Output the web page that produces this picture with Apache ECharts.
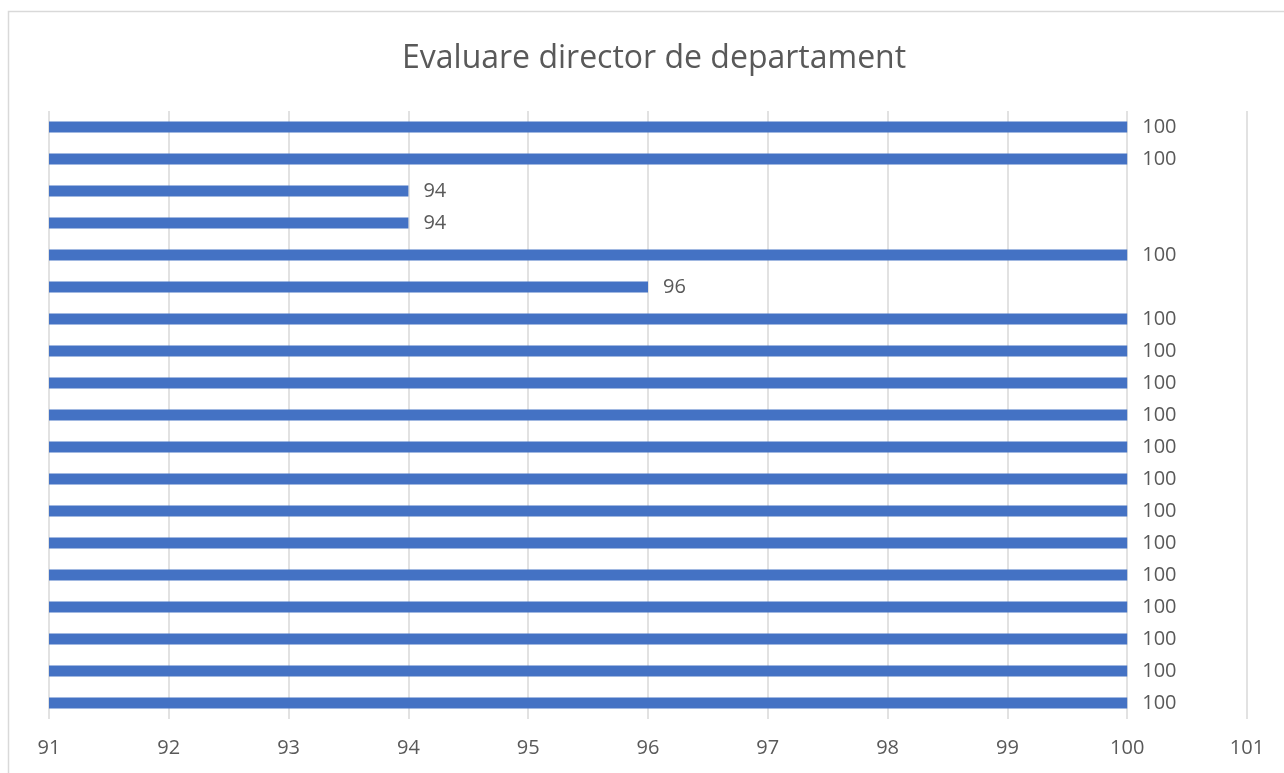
<!DOCTYPE html>
<html>
<head>
<meta charset="utf-8">
<script src="https://cdn.jsdelivr.net/npm/echarts@6/dist/echarts.min.js"></script>
<style>
  html, body { margin: 0; padding: 0; background: #fff; }
  #chart { width: 1284px; height: 773px; }
</style>
</head>
<body>
<div id="chart"></div>
<script>
  // valori de sus in jos, asa cum apar in imagine
  var categories = ['1', '2', '3', '4', '5', '6', '7', '8', '9', '10',
    '11', '12', '13', '14', '15', '16', '17', '18', '19'];
  var scores = [100, 100, 94, 94, 100, 96, 100, 100, 100, 100,
    100, 100, 100, 100, 100, 100, 100, 100, 100];
  var xTicks = [91, 92, 93, 94, 95, 96, 97, 98, 99, 100, 101];

  var chart = echarts.init(document.getElementById('chart'));
  chart.setOption({
    backgroundColor: '#fff',
    animation: false,
    title: {
      text: 'Evaluare director de departament',
      left: 397,
      top: 38,
      textStyle: {
        fontFamily: 'Open Sans',
        fontSize: 32,
        fontWeight: 'normal',
        color: '#595959'
      }
    },
    graphic: [{
      type: 'rect',
      shape: { x: 8.5, y: 11.5, width: 1300, height: 800 },
      style: { fill: 'none', stroke: '#d9d9d9', lineWidth: 1.5 },
      silent: true
    }],
    grid: { left: 49, right: 37, top: 111, bottom: 54 },
    xAxis: {
      type: 'value',
      min: xTicks[0],
      max: xTicks[xTicks.length - 1],
      interval: 1,
      axisLine: { show: false },
      axisTick: { show: false },
      splitLine: { lineStyle: { color: '#d9d9d9', width: 1.5 } },
      axisLabel: {
        margin: 19,
        fontFamily: 'Open Sans',
        fontSize: 20,
        color: '#595959'
      }
    },
    yAxis: {
      type: 'category',
      data: categories,
      inverse: true,
      axisLine: { show: false },
      axisTick: { show: false },
      axisLabel: { show: false }
    },
    series: [{
      type: 'bar',
      data: scores,
      barWidth: 11,
      itemStyle: { color: '#4472c4' },
      label: {
        show: true,
        position: 'right',
        distance: 15,
        fontFamily: 'Open Sans',
        fontSize: 20,
        color: '#595959'
      }
    }]
  });
</script>
</body>
</html>
